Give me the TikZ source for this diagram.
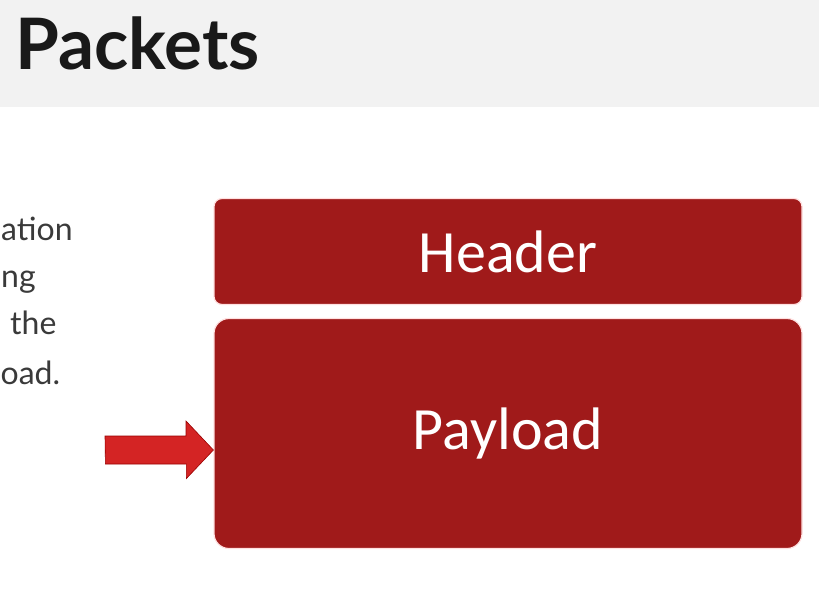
\documentclass[tikz,border=0pt]{standalone}
\usepackage{fontspec}
\setmainfont{Lato}
\newfontfamily\boxfont{Carlito}
\definecolor{bandgray}{HTML}{F2F2F2}
\definecolor{boxred}{HTML}{A01A1A}
\definecolor{arrowred}{HTML}{D42424}
\definecolor{textgray}{HTML}{3A3A3A}

\begin{document}
\begin{tikzpicture}[x=1pt, y=-1pt,
                    band_style/.style={fill=bandgray},
                    box_style/.style={rectangle, fill=boxred, draw=red!12, line width=1.2pt,
                                      text=white, font=\boxfont\fontsize{60}{64}\selectfont},
                    line_style/.style={anchor=base west, text=textgray, inner sep=0pt,
                                       font=\fontsize{32}{34}\selectfont}
   ]
   \useasboundingbox (0,0) rectangle (819,590);
   % Title band
   \fill[band_style] (0,0) rectangle (819,107);
   \node[anchor=base west, inner sep=0pt, text=black!90, font=\fontsize{71}{76}\selectfont\bfseries]
      (title) at (15,69) {Packets};
   % Cut-off text on the left
   \node[line_style] (l1) at (1,240) {ation};
   \node[line_style] (l2) at (1,287) {ng};
   \node[line_style] (l3) at (10,334) {the};
   \node[line_style] (l4) at (0.5,384) {oad.};
   % Packet
   \node[box_style, rounded corners=8pt, minimum width=588pt, minimum height=106pt]
      (header) at (508,251.5) {Header};
   \node[box_style, rounded corners=15pt, minimum width=588pt, minimum height=230pt]
      (payload) at (508,433.5) {Payload};
   % Arrow
   \coordinate (tail) at (105,450);
   \fill[arrowred, draw=red!60!black, line width=0.6pt]
      (tail) ++(0,-14) -- ++(81,0) -- ++(0,-15) -- (payload.west |- tail) -- ++(-27,28.5)
      -- ++(0,-14.5) -- ++(-81,0) -- cycle;
\end{tikzpicture}
\end{document}
